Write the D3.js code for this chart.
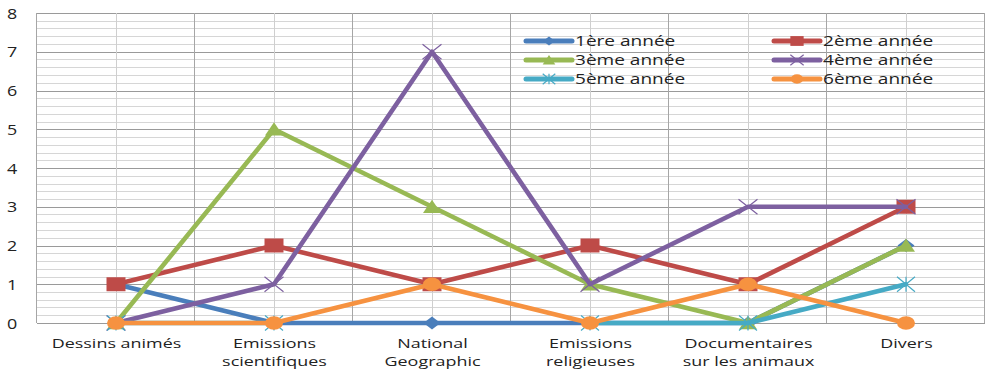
<!DOCTYPE html>
<html>
<head>
<meta charset="utf-8">
<script src="https://cdn.jsdelivr.net/npm/d3@7"></script>
<style>
  html, body { margin: 0; padding: 0; background: #fff; }
  svg { display: block; }
  text { font-family: "Open Sans", "DejaVu Sans", sans-serif; fill: #222; }
</style>
</head>
<body>
<svg id="chart" width="985" height="369"></svg>
<script>
// Programme categories (two-line labels split on "\n")
const categories = [
  "Dessins animés",
  "Emissions\nscientifiques",
  "National\nGeographic",
  "Emissions\nreligieuses",
  "Documentaires\nsur les animaux",
  "Divers"
];

// Number of pupils per school year (null = no value)
const annee1 = [1, 0, 0, 0, 0, 2];
const annee2 = [1, 2, 1, 2, 1, 3];
const annee3 = [0, 5, 3, 1, 0, 2];
const annee4 = [0, 1, 7, 1, 3, 3];
const annee5 = [0, 0, null, 0, 0, 1];
const annee6 = [0, 0, 1, 0, 1, 0];

const seriesNames = ["1ère année", "2ème année", "3ème année", "4ème année", "5ème année", "6ème année"];
const yTicks = [0, 1, 2, 3, 4, 5, 6, 7, 8];

const series = [
  { name: seriesNames[0], values: annee1, color: "#4a7ebb", marker: "diamond" },
  { name: seriesNames[1], values: annee2, color: "#be4b48", marker: "square" },
  { name: seriesNames[2], values: annee3, color: "#98b954", marker: "triangle" },
  { name: seriesNames[3], values: annee4, color: "#7d60a0", marker: "x" },
  { name: seriesNames[4], values: annee5, color: "#46aac5", marker: "star" },
  { name: seriesNames[5], values: annee6, color: "#f69240", marker: "circle" }
];

const svg = d3.select("#chart");
const plotLeft = 37, plotRight = 985, plotTop = 13, plotBottom = 323;
const STRETCH = 1.28;

const x = d3.scalePoint().domain(categories).range([plotLeft, plotRight]).padding(0.5);
const y = d3.scaleLinear().domain([0, 8]).range([plotBottom, plotTop]);
const step = x.step();

// Horizontal gridlines: minor every 0.2, major on integers
const grid = svg.append("g");
const minor = d3.range(0, 8.0001, 0.2).filter(v => Math.abs(v - Math.round(v)) > 1e-6);
grid.selectAll(".minor").data(minor).join("line")
  .attr("x1", plotLeft).attr("x2", plotRight)
  .attr("y1", d => Math.round(y(d)) + 0.5).attr("y2", d => Math.round(y(d)) + 0.5)
  .attr("stroke", "#d6d6d6").attr("stroke-width", 1);
grid.selectAll(".major").data(yTicks).join("line")
  .attr("x1", plotLeft).attr("x2", plotRight)
  .attr("y1", d => Math.round(y(d)) + 0.5).attr("y2", d => Math.round(y(d)) + 0.5)
  .attr("stroke", "#9a9a9a").attr("stroke-width", 1);

// Vertical gridlines: category centres (light) and boundaries (darker)
grid.selectAll(".vc").data(categories).join("line")
  .attr("x1", d => Math.round(x(d)) + 0.5).attr("x2", d => Math.round(x(d)) + 0.5)
  .attr("y1", plotTop).attr("y2", plotBottom)
  .attr("stroke", "#cfcfcf").attr("stroke-width", 1);
const bounds = d3.range(categories.length + 1).map(i => plotLeft + i * step);
grid.selectAll(".vb").data(bounds).join("line")
  .attr("x1", d => Math.round(d) - 0.5).attr("x2", d => Math.round(d) - 0.5)
  .attr("y1", plotTop).attr("y2", plotBottom)
  .attr("stroke", "#a6a6a6").attr("stroke-width", 1);

// Y axis labels
const yAxis = d3.axisLeft(y).tickValues(yTicks).tickSize(0).tickPadding(0);
const ya = svg.append("g").call(yAxis);
ya.select(".domain").remove();
ya.selectAll(".tick text").remove();
ya.selectAll(".tick").append("text")
  .attr("transform", `translate(12,5) scale(${STRETCH},1)`)
  .attr("text-anchor", "middle")
  .attr("font-size", "14px")
  .style("fill", "#222")
  .text(d => d);

// X axis labels (two lines where needed)
const xAxis = d3.axisBottom(x).tickSize(0).tickFormat("");
const xa = svg.append("g").attr("transform", `translate(0,${plotBottom})`).call(xAxis);
xa.select(".domain").remove();
xa.selectAll(".tick").each(function (d) {
  const lines = d.split("\n");
  const g = d3.select(this);
  lines.forEach((ln, i) => {
    g.append("text")
      .attr("transform", `translate(0,${24.5 + i * 18}) scale(1.38,1)`)
      .attr("text-anchor", "middle")
      .attr("font-size", "13px")
      .style("fill", "#222")
      .text(ln);
  });
});

// Marker shapes in unit coordinates
function markerPath(type) {
  switch (type) {
    case "diamond": return "M0,-1L1,0L0,1L-1,0Z";
    case "square": return "M-1,-1H1V1H-1Z";
    case "triangle": return "M0,-1L1,0.9L-1,0.9Z";
    case "circle": return "M-1,0A1,1 0 1,0 1,0A1,1 0 1,0 -1,0Z";
    case "x": return "M-1,-1L1,1M-1,1L1,-1";
    case "star": return "M-1,-1L1,1M-1,1L1,-1M0,-1L0,1";
  }
}
const markerSize = {
  diamond: [8.5, 6.5], square: [9.5, 7], triangle: [9, 7],
  circle: [9, 6.8], x: [9.5, 7.5], star: [9, 7.5]
};
function drawMarker(sel, s, cx, cy, k) {
  const [sx, sy] = markerSize[s.marker];
  const open = s.marker === "x" || s.marker === "star";
  sel.append("path")
    .attr("d", markerPath(s.marker))
    .attr("transform", `translate(${cx},${cy}) scale(${sx * k},${sy * k})`)
    .attr("fill", open ? "none" : s.color)
    .attr("stroke", s.color)
    .attr("stroke-width", open ? 1.2 : 0)
    .attr("vector-effect", "non-scaling-stroke");
}

// Lines and markers
const line = d3.line()
  .defined(d => d.v !== null)
  .x(d => x(d.c))
  .y(d => y(d.v));

const plot = svg.append("g");
series.forEach(s => {
  const pts = categories.map((c, i) => ({ c, v: s.values[i] }));
  const g = plot.append("g");
  g.append("path")
    .datum(pts)
    .attr("d", line)
    .attr("fill", "none")
    .attr("stroke", s.color)
    .attr("stroke-width", 4.6)
    .attr("stroke-linejoin", "round")
    .attr("stroke-linecap", "round");
  pts.filter(p => p.v !== null).forEach(p => drawMarker(g, s, x(p.c), y(p.v), 1));
});

// Legend, two columns, three rows
const legend = svg.append("g");
const legCols = [526, 774];
const legRows = [41, 60, 79];
series.forEach((s, i) => {
  const cx = legCols[i % 2], cy = legRows[Math.floor(i / 2)];
  const g = legend.append("g");
  g.append("line")
    .attr("x1", cx).attr("x2", cx + 46)
    .attr("y1", cy).attr("y2", cy)
    .attr("stroke", s.color).attr("stroke-width", 5)
    .attr("stroke-linecap", "round");
  drawMarker(g, s, cx + 23, cy, 0.7);
  g.append("text")
    .attr("transform", `translate(${cx + 49},${cy + 5}) scale(1.36,1)`)
    .attr("font-size", "14px")
    .style("fill", "#222")
    .text(s.name);
});
</script>
</body>
</html>
